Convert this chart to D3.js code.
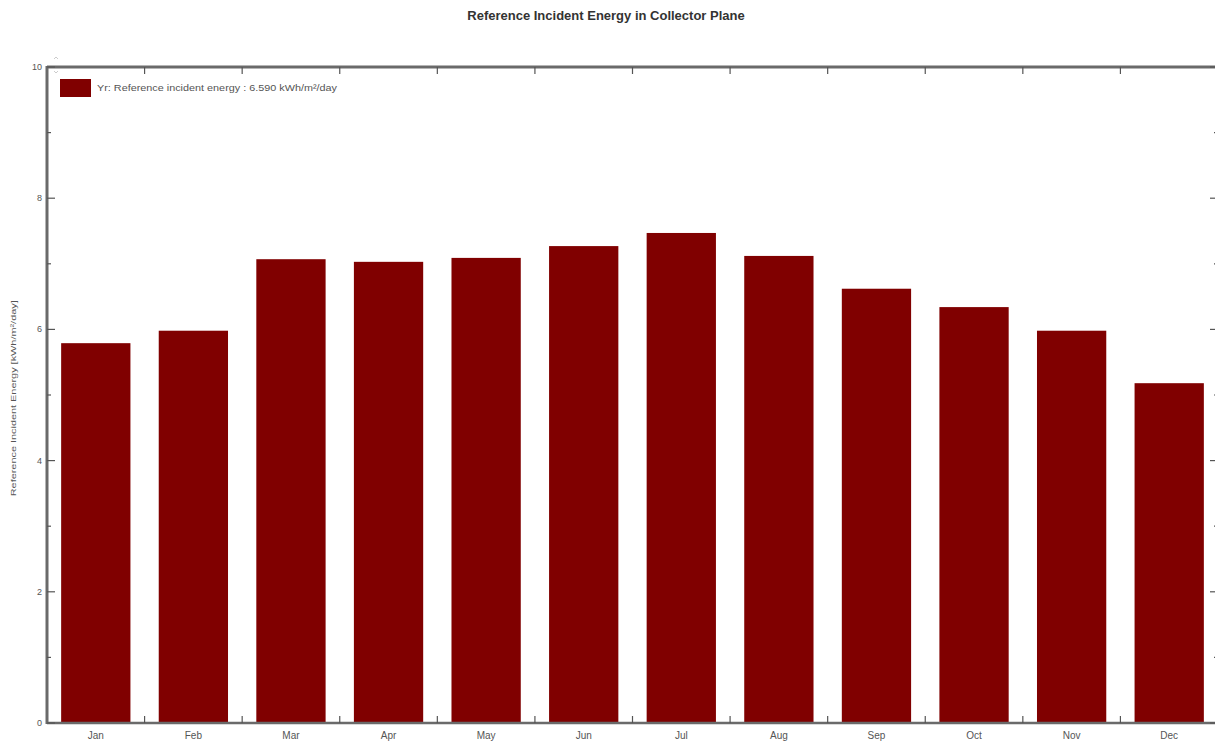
<!DOCTYPE html>
<html>
<head>
<meta charset="utf-8">
<script src="https://cdn.jsdelivr.net/npm/d3@7"></script>
<style>
  html, body { margin: 0; padding: 0; background: #fff; }
  svg { display: block; }
  text { font-family: "Liberation Sans Narrow", "Arial Narrow", "Liberation Sans", Arial, sans-serif; }
</style>
</head>
<body>
<svg id="chart" width="1215" height="744"></svg>
<script>
const title = "Reference Incident Energy in Collector Plane";
const months = ["Jan","Feb","Mar","Apr","May","Jun","Jul","Aug","Sep","Oct","Nov","Dec"];
const values = [5.79, 5.98, 7.07, 7.03, 7.09, 7.27, 7.47, 7.12, 6.62, 6.34, 5.98, 5.18];
const yMajorTicks = [0, 2, 4, 6, 8, 10];
const yMinorTicks = [1, 3, 5, 7, 9];
const legendLabel = "Yr: Reference incident energy :  6.590 kWh/m²/day";
const yLabel = "Reference Incident Energy  [kWh/m²/day]";

(function () {
const svg = d3.select("#chart");
const pL = 47, pR = 1218, pT = 67, pB = 723;

const x = d3.scaleBand().domain(months).range([pL, pR]).paddingInner(0.29).paddingOuter(0.145);
const y = d3.scaleLinear().domain([0, 10]).range([pB, pT]);
const barColor = "#800000";
const axisColor = "#6a6a6a";

// title
svg.append("text").attr("x", 606).attr("y", 20).attr("text-anchor", "middle")
  .attr("font-size", 13).attr("font-weight", "bold").attr("fill", "#333").text(title);

// bars
svg.append("g").selectAll("rect").data(values).join("rect")
  .attr("x", (d, i) => x(months[i]))
  .attr("width", x.bandwidth())
  .attr("y", d => y(d))
  .attr("height", d => y(0) - y(d))
  .attr("fill", barColor);

// frame
const frame = svg.append("g").attr("stroke", axisColor).attr("fill", "none");
frame.append("line").attr("x1", pL).attr("x2", pL).attr("y1", pT - 1).attr("y2", pB + 1).attr("stroke-width", 3);
frame.append("line").attr("x1", pL).attr("x2", pR).attr("y1", pT).attr("y2", pT).attr("stroke-width", 3);
frame.append("line").attr("x1", pL).attr("x2", pR).attr("y1", pB).attr("y2", pB).attr("stroke-width", 2.5);
frame.append("line").attr("x1", pR).attr("x2", pR).attr("y1", pT).attr("y2", pB).attr("stroke-width", 2);

// y ticks (inside, left and right)
const tk = svg.append("g").attr("stroke", "#555").attr("stroke-width", 1.2);
yMajorTicks.forEach(v => {
  tk.append("line").attr("x1", pL).attr("x2", pL + 8).attr("y1", y(v)).attr("y2", y(v));
  tk.append("line").attr("x1", pR).attr("x2", pR - 8).attr("y1", y(v)).attr("y2", y(v));
});
yMinorTicks.forEach(v => {
  tk.append("line").attr("x1", pL).attr("x2", pL + 4).attr("y1", y(v)).attr("y2", y(v));
  tk.append("line").attr("x1", pR).attr("x2", pR - 4).attr("y1", y(v)).attr("y2", y(v));
});
// x boundary ticks (top and bottom, inside)
const step = x.step();
for (let i = 1; i < months.length; i++) {
  const bx = x(months[i]) - (step - x.bandwidth()) / 2;
  tk.append("line").attr("x1", bx).attr("x2", bx).attr("y1", pB).attr("y2", pB - 7);
  tk.append("line").attr("x1", bx).attr("x2", bx).attr("y1", pT).attr("y2", pT + 7);
}

// y tick labels
svg.append("g").selectAll("text").data(yMajorTicks).join("text")
  .attr("x", pL - 5).attr("y", d => y(d) + 3).attr("text-anchor", "end")
  .attr("font-size", 9).attr("fill", "#555").text(d => d);

// x labels
svg.append("g").selectAll("text").data(months).join("text")
  .attr("x", d => x(d) + x.bandwidth() / 2).attr("y", 739).attr("text-anchor", "middle")
  .attr("font-size", 10).attr("fill", "#555").text(d => d);

// y label
svg.append("text").attr("transform", `translate(16,${y(4.95)}) rotate(-90)`)
  .attr("text-anchor", "middle").attr("font-size", 8).attr("fill", "#555")
  .attr("textLength", 196).attr("lengthAdjust", "spacingAndGlyphs").text(yLabel);

// legend
svg.append("rect").attr("x", 60).attr("y", 79).attr("width", 31).attr("height", 18).attr("fill", barColor);
svg.append("text").attr("x", 97).attr("y", 91).attr("font-size", 9.5).attr("fill", "#555")
  .attr("textLength", 240).attr("lengthAdjust", "spacingAndGlyphs").text(legendLabel);

// small scroll markers near top-left
const mk = svg.append("g").attr("fill", "none").attr("stroke", "#ccc").attr("stroke-width", 1);
mk.append("path").attr("d", "M54,59 L56,57 L58,59");
mk.append("path").attr("d", "M54,71 L56,73 L58,71");
})();
</script>
</body>
</html>
